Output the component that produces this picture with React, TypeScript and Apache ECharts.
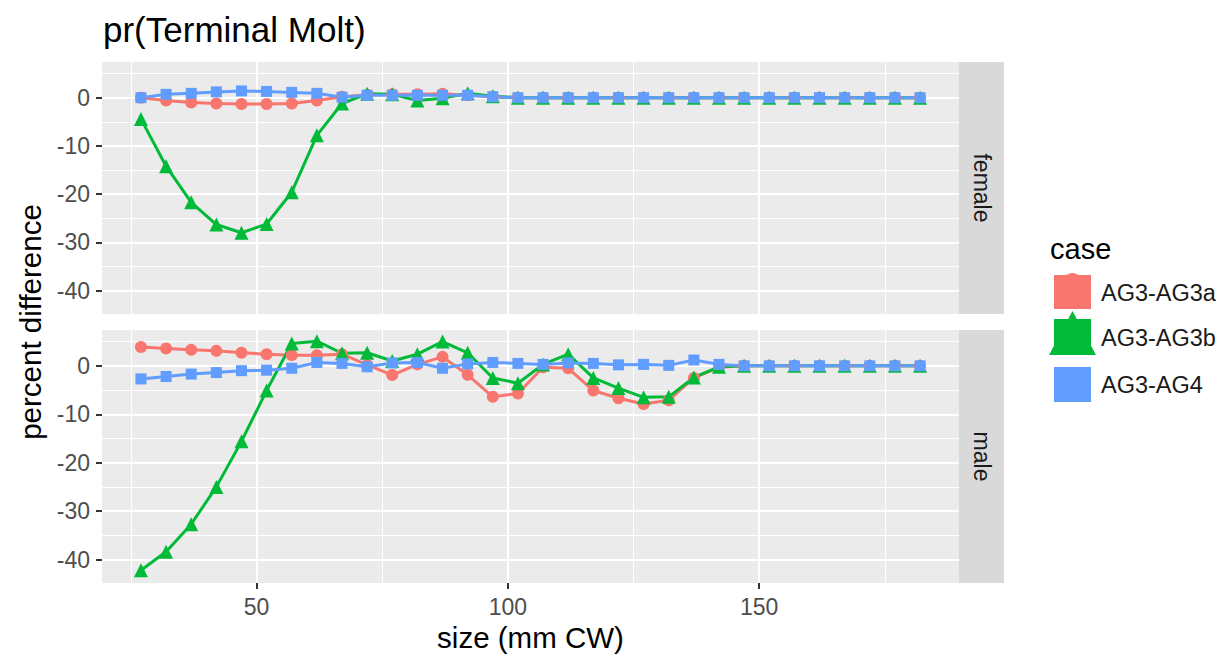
import React, { useEffect, useRef } from "react";
import * as echarts from "echarts";

const sizes = [27, 32, 37, 42, 47, 52, 57, 62, 67, 72, 77, 82, 87, 92, 97, 102, 107, 112, 117, 122, 127, 132, 137, 142, 147, 152, 157, 162, 167, 172, 177, 182];

const caseNames = ["AG3-AG3a", "AG3-AG3b", "AG3-AG4"];
const caseColors = ["#F8766D", "#00BA38", "#619CFF"];
const panels = ["female", "male"];

const femaleA = [0, -0.6, -1.0, -1.2, -1.3, -1.3, -1.2, -0.6, 0.2, 0.6, 0.7, 0.7, 0.8, 0.5, 0.2, 0, 0, 0, 0, 0, 0, 0, 0, 0, 0, 0, 0, 0, 0, 0, 0, 0];
const femaleB = [-4.4, -14.2, -21.7, -26.3, -28.0, -26.2, -19.6, -7.8, -1.2, 0.8, 0.7, -0.6, -0.1, 0.9, 0.3, 0, 0, 0, 0, 0, 0, 0, 0, 0, 0, 0, 0, 0, 0, 0, 0, 0];
const femaleC = [0, 0.7, 0.9, 1.2, 1.4, 1.3, 1.1, 0.9, 0.1, 0.5, 0.5, 0.5, 0.5, 0.5, 0.2, 0, 0, 0, 0, 0, 0, 0, 0, 0, 0, 0, 0, 0, 0, 0, 0, 0];

const maleA = [3.9, 3.6, 3.3, 3.1, 2.7, 2.4, 2.2, 2.2, 2.4, 0.2, -1.9, 0.3, 1.85, -1.85, -6.4, -5.7, -0.3, -0.5, -5.1, -6.7, -7.9, -7.1, -2.5, -0.3, 0, 0, 0, 0, 0, 0, 0, 0];
const maleB = [-42.2, -38.4, -32.7, -25.0, -15.6, -5.1, 4.6, 5.1, 2.6, 2.7, 1.0, 2.4, 5.0, 2.7, -2.5, -3.6, 0.3, 2.4, -2.5, -4.6, -6.5, -6.4, -2.4, -0.2, 0, 0, 0, 0, 0, 0, 0, 0];
const maleC = [-2.7, -2.2, -1.7, -1.4, -1.0, -0.9, -0.5, 0.7, 0.5, -0.2, 0.6, 0.7, -0.5, 0.4, 0.7, 0.5, 0.3, 0.6, 0.5, 0.2, 0.3, 0.1, 1.2, 0.3, 0, 0, 0, 0, 0, 0, 0, 0];

const panelData = [
  [femaleA, femaleB, femaleC],
  [maleA, maleB, maleC],
];

const xMajor = [50, 100, 150];
const xMinor = [25, 75, 125, 175];
const yMajor = [0, -10, -20, -30, -40];
const yMinor = [5, -5, -15, -25, -35];
const xRange = [19.25, 189.75];
const yRange = [-44.85, 7.4];

const FONT = "'Liberation Sans', Arial, Helvetica, sans-serif";
const symbols = ["circle", "triangle", "rect"];
const symbolSizes = [12, 14, 11];

export default function App() {
  const ref = useRef<HTMLDivElement>(null);
  useEffect(() => {
    if (!ref.current) return;
    const chart = echarts.init(ref.current, null, { renderer: "svg" });

    const grids = [
      { left: 102, top: 62, width: 857, height: 252 },
      { left: 102, top: 330, width: 857, height: 253 },
    ];

    const xAxes: any[] = [];
    const yAxes: any[] = [];
    grids.forEach((g, gi) => {
      const isBottom = gi === 1;
      xAxes.push({
        type: "value", gridIndex: gi, min: xRange[0], max: xRange[1], position: "bottom",
        axisLine: { show: false, onZero: false },
        axisTick: { show: isBottom, customValues: xMajor, length: 6, lineStyle: { color: "#333333", width: 2 } },
        axisLabel: { show: isBottom, customValues: xMajor, fontSize: 23, color: "#4D4D4D", fontFamily: FONT, margin: 12 },
        splitLine: { show: true, lineStyle: { color: "#FFFFFF", width: 2 } },
      });
      xAxes.push({
        type: "value", gridIndex: gi, min: xRange[0], max: xRange[1], position: "bottom",
        axisLine: { show: false, onZero: false },
        axisTick: { show: false, customValues: xMinor },
        axisLabel: { show: false, customValues: xMinor },
        splitLine: { show: true, lineStyle: { color: "#FFFFFF", width: 1 } },
      });
      yAxes.push({
        type: "value", gridIndex: gi, min: yRange[0], max: yRange[1], position: "left",
        axisLine: { show: false, onZero: false },
        axisTick: { show: true, customValues: yMajor, length: 6, lineStyle: { color: "#333333", width: 2 } },
        axisLabel: { show: true, customValues: yMajor, fontSize: 23, color: "#4D4D4D", fontFamily: FONT, margin: 12 },
        splitLine: { show: true, lineStyle: { color: "#FFFFFF", width: 2 } },
      });
      yAxes.push({
        type: "value", gridIndex: gi, min: yRange[0], max: yRange[1], position: "left",
        axisLine: { show: false, onZero: false },
        axisTick: { show: false, customValues: yMinor },
        axisLabel: { show: false, customValues: yMinor },
        splitLine: { show: true, lineStyle: { color: "#FFFFFF", width: 1 } },
      });
    });

    const series: any[] = [];
    panelData.forEach((arrs, gi) => {
      arrs.forEach((vals, ci) => {
        series.push({
          type: "line", name: caseNames[ci] + "-line-" + gi,
          xAxisIndex: gi * 2, yAxisIndex: gi * 2,
          data: sizes.map((s, i) => [s, vals[i]]),
          showSymbol: false, symbol: "none",
          lineStyle: { color: caseColors[ci], width: 3 },
          z: 2, silent: true,
        });
      });
      arrs.forEach((vals, ci) => {
        series.push({
          type: "scatter", name: caseNames[ci] + "-pt-" + gi,
          xAxisIndex: gi * 2, yAxisIndex: gi * 2,
          data: sizes.map((s, i) => [s, vals[i]]),
          symbol: symbols[ci], symbolSize: symbolSizes[ci],
          itemStyle: { color: caseColors[ci], opacity: 1 },
          z: 3, silent: true,
        });
      });
    });

    const graphic: any[] = [];
    grids.forEach((g, gi) => {
      graphic.push({
        type: "rect", z: -1,
        shape: { x: g.left + g.width, y: g.top, width: 45, height: g.height },
        style: { fill: "#D9D9D9" },
      });
      graphic.push({
        type: "text", x: g.left + g.width + 22.5, y: g.top + g.height / 2, rotation: -Math.PI / 2,
        style: { text: panels[gi], font: `23px ${FONT}`, fill: "#1A1A1A", align: "center", verticalAlign: "middle" },
      });
    });
    graphic.push({
      type: "text", x: 103, y: 29,
      style: { text: "pr(Terminal Molt)", font: `35px ${FONT}`, fill: "#000000", align: "left", verticalAlign: "middle" },
    });
    graphic.push({
      type: "text", x: 30, y: 322, rotation: Math.PI / 2,
      style: { text: "percent difference", font: `29.5px ${FONT}`, fill: "#000000", align: "center", verticalAlign: "middle" },
    });
    graphic.push({
      type: "text", x: 530.5, y: 637,
      style: { text: "size (mm CW)", font: `29.5px ${FONT}`, fill: "#000000", align: "center", verticalAlign: "middle" },
    });
    graphic.push({
      type: "text", x: 1050, y: 249,
      style: { text: "case", font: `29px ${FONT}`, fill: "#000000", align: "left", verticalAlign: "middle" },
    });
    graphic.push({ type: "circle", shape: { cx: 1072.5, cy: 282, r: 9 }, style: { fill: caseColors[0] } });
    graphic.push({ type: "rect", shape: { x: 1054, y: 275, width: 37, height: 34 }, style: { fill: caseColors[0] } });
    graphic.push({ type: "rect", shape: { x: 1054, y: 319, width: 37, height: 35 }, style: { fill: caseColors[1] } });
    graphic.push({ type: "polygon", shape: { points: [[1072.5, 311], [1049, 355], [1096, 355]] }, style: { fill: caseColors[1] } });
    graphic.push({ type: "rect", shape: { x: 1054, y: 367, width: 37, height: 35 }, style: { fill: caseColors[2] } });
    const legendY = [293, 338, 385];
    caseNames.forEach((n, i) => {
      graphic.push({
        type: "text", x: 1101, y: legendY[i],
        style: { text: n, font: `23.5px ${FONT}`, fill: "#1A1A1A", align: "left", verticalAlign: "middle" },
      });
    });

    chart.setOption({
      animation: false,
      backgroundColor: "#FFFFFF",
      grid: grids.map((g) => ({ ...g, show: true, backgroundColor: "#EBEBEB", borderWidth: 0, containLabel: false })),
      xAxis: xAxes,
      yAxis: yAxes,
      series,
      graphic,
    });
    return () => chart.dispose();
  }, []);
  return <div ref={ref} style={{ position: "absolute", left: 0, top: 0, width: 1227, height: 660 }} />;
}
